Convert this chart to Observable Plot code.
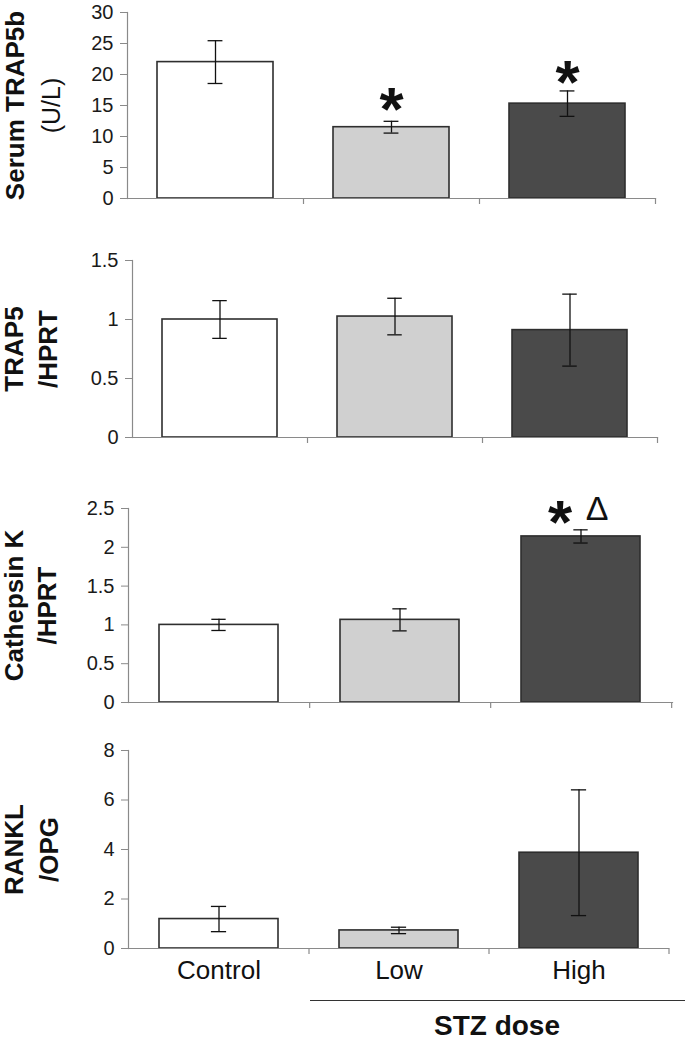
<!DOCTYPE html>
<html><head><meta charset="utf-8">
<script src="https://cdn.jsdelivr.net/npm/d3@7"></script>
<script src="https://cdn.jsdelivr.net/npm/@observablehq/plot@0.6"></script>
<style>
body{margin:0;background:#fff;font-family:"Liberation Sans",Arial,Helvetica,sans-serif;}
#chart{width:685px;position:relative;}
svg{display:block;overflow:visible;}
#foot{position:relative;height:55px;width:685px;}
#foot .line{position:absolute;left:310px;top:10px;width:375px;height:0;border-top:1.6px solid #333;}
#foot .lab{position:absolute;left:297px;width:400px;text-align:center;top:22px;font-size:28px;font-weight:bold;color:#111;line-height:28px;}
</style></head><body><div id="chart"></div>
<script>
const groups = ["Control", "Low", "High"];

const trap5bMean = [22.0, 11.5, 15.3];
const trap5bSem  = [3.45, 0.95, 2.05];
const trap5bTicks = [0, 5, 10, 15, 20, 25, 30];

const trap5Mean = [1.0, 1.025, 0.91];
const trap5Sem  = [0.16, 0.155, 0.305];
const trap5Ticks = [0, 0.5, 1, 1.5];

const ctskMean = [1.0, 1.065, 2.14];
const ctskSem  = [0.072, 0.142, 0.085];
const ctskTicks = [0, 0.5, 1, 1.5, 2, 2.5];

const rankMean = [1.19, 0.73, 3.87];
const rankSem  = [0.51, 0.13, 2.54];
const rankTicks = [0, 2, 4, 6, 8];

const stars1 = [{group: "Low", y: 15.8}, {group: "High", y: 20.2}];
const stars3 = [{group: "High", y: 2.45}];
const delta3 = [{group: "High", y: 2.5}];

const FONT = '"Liberation Sans", Arial, Helvetica, sans-serif';
const fills = ["#ffffff", "#d0d0d0", "#4a4a4a"];
const axisGray = "#8a8a8a";

function panel(o) {
  const width = 685;
  const step = (width - o.marginLeft - o.marginRight) / 3;
  const bw = step * 0.66;
  const capInset = (bw - 15) / 2;
  const data = groups.map((g, i) => ({group: g, value: o.mean[i], lo: o.mean[i] - o.sem[i], hi: o.mean[i] + o.sem[i]}));
  const marks = [
    Plot.barY(data, {x: "group", y: "value", fill: "group", stroke: "#2e2e2e", strokeWidth: 1.6}),
    Plot.ruleX(data, {x: "group", y1: "lo", y2: "hi", stroke: "#111", strokeWidth: 1.3}),
    Plot.tickY(data, {x: "group", y: "lo", insetLeft: capInset, insetRight: capInset, stroke: "#111", strokeWidth: 1.3}),
    Plot.tickY(data, {x: "group", y: "hi", insetLeft: capInset, insetRight: capInset, stroke: "#111", strokeWidth: 1.3}),
    Plot.frame({anchor: "left", stroke: axisGray, strokeWidth: 1.2}),
    Plot.frame({anchor: "bottom", stroke: axisGray, strokeWidth: 1.2}),
    Plot.ruleX(groups, {x: d => d, y1: 0, y2: 0, dx: step / 2, insetBottom: -6, stroke: axisGray, strokeWidth: 1.2}),
    Plot.axisY({ticks: o.ticks, tickSize: 7, tickPadding: 7, tickFormat: d => String(d), fontSize: 20, label: null, stroke: axisGray, fill: "#1a1a1a"}),
    Plot.text([o.title1], {text: d => d, frameAnchor: "left", rotate: -90, dx: o.t1x - o.marginLeft, fontSize: 26, fontWeight: "bold", textAnchor: "middle", lineAnchor: "middle", fill: "#111"}),
    Plot.text([o.title2], {text: d => d, frameAnchor: "left", rotate: -90, dx: o.t2x - o.marginLeft, fontSize: o.t2bold ? 26 : 25, fontWeight: o.t2bold ? "bold" : "normal", textAnchor: "middle", lineAnchor: "middle", fill: "#111"})
  ];
  if (o.showX) marks.push(Plot.axisX({tickSize: 0, tickPadding: 12, fontSize: 26, label: null, fill: "#111"}));
  if (o.extra) marks.push(...o.extra);
  return Plot.plot({
    width, height: o.height,
    marginTop: o.marginTop, marginRight: o.marginRight, marginBottom: o.marginBottom, marginLeft: o.marginLeft,
    style: {fontFamily: FONT, background: "white", overflow: "visible"},
    x: {domain: groups, paddingInner: 0.34, paddingOuter: 0.17, axis: o.showX ? undefined : null},
    y: {domain: [0, o.ticks[o.ticks.length - 1]], axis: null},
    color: {domain: groups, range: fills},
    marks
  });
}

const chart = document.getElementById("chart");

chart.append(panel({
  mean: trap5bMean, sem: trap5bSem, ticks: trap5bTicks,
  title1: "Serum TRAP5b", title2: "(U/L)", t2bold: false, t1x: 15, t2x: 51,
  height: 230, marginTop: 12, marginBottom: 32, marginLeft: 127, marginRight: 30,
  extra: [Plot.text(stars1, {x: "group", y: "y", text: () => "*", fontSize: 62, fontWeight: "bold", dy: 10, fill: "#111"})]
}));

chart.append(panel({
  mean: trap5Mean, sem: trap5Sem, ticks: trap5Ticks,
  title1: "TRAP5", title2: "/HPRT", t2bold: true, t1x: 14, t2x: 48,
  height: 240, marginTop: 30, marginBottom: 33, marginLeft: 132, marginRight: 28
}));

chart.append(panel({
  mean: ctskMean, sem: ctskSem, ticks: ctskTicks,
  title1: "Cathepsin K", title2: "/HPRT", t2bold: true, t1x: 14, t2x: 47,
  height: 255, marginTop: 38, marginBottom: 23, marginLeft: 128, marginRight: 13,
  extra: [
    Plot.text(stars3, {x: "group", y: "y", text: () => "*", fontSize: 62, fontWeight: "bold", dx: -21, dy: 11, fill: "#111"}),
    Plot.text(delta3, {x: "group", y: "y", text: () => "Δ", fontSize: 34, dx: 16, dy: 1, fill: "#111"})
  ]
}));

chart.append(panel({
  mean: rankMean, sem: rankSem, ticks: rankTicks,
  title1: "RANKL", title2: "/OPG", t2bold: true, t1x: 14, t2x: 49,
  height: 265, marginTop: 25, marginBottom: 42, marginLeft: 128, marginRight: 17,
  showX: true
}));

const foot = document.createElement("div");
foot.id = "foot";
foot.innerHTML = '<div class="line"></div><div class="lab">STZ dose</div>';
chart.append(foot);
</script>
</body></html>
